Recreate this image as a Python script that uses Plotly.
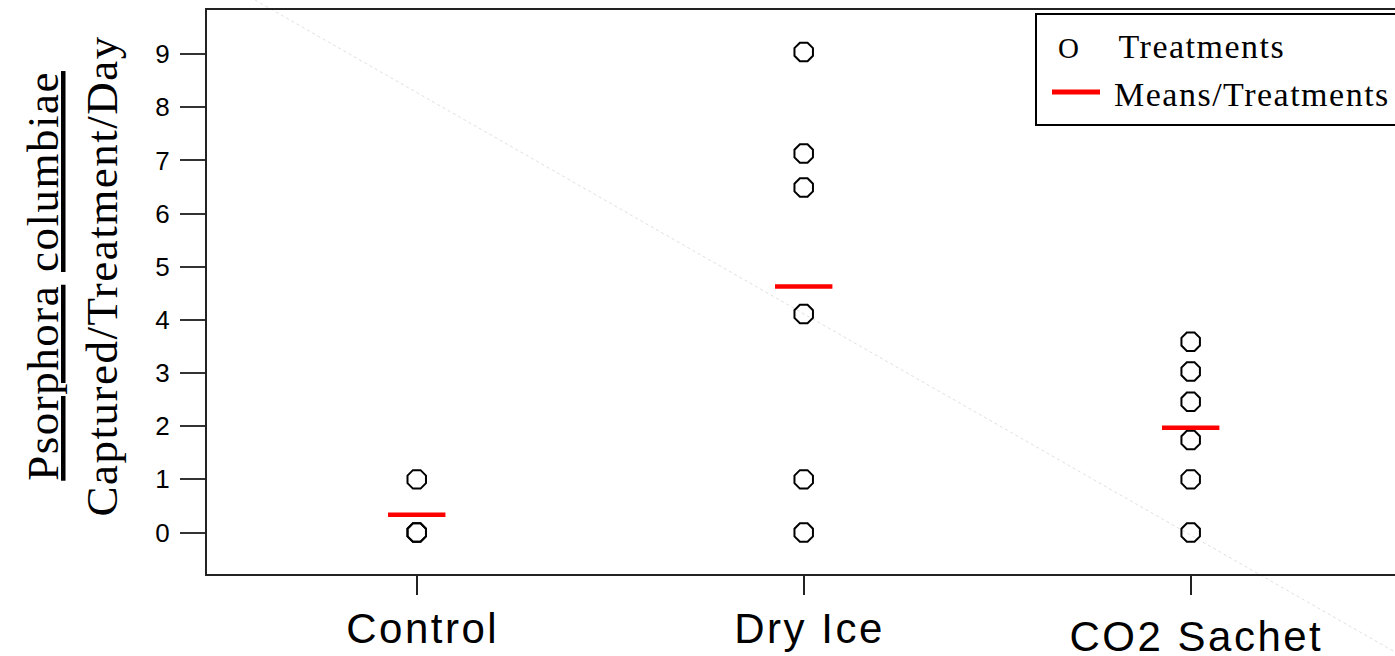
import numpy as np
import plotly.graph_objects as go

categories = ["Control", "Dry Ice", "CO2 Sachet"]
control = [1, 0, 0]
dry_ice = [9.04, 7.13, 6.49, 4.11, 1, 0]
co2_sachet = [3.59, 3.03, 2.46, 1.74, 1, 0]
y_ticks = [0, 1, 2, 3, 4, 5, 6, 7, 8, 9]

groups = [control, dry_ice, co2_sachet]
means = [float(np.mean(g)) for g in groups]

xs, ys = [], []
for cat, vals in zip(categories, groups):
    xs += [cat] * len(vals)
    ys += vals

W, H = 1395, 656
ML, MR, MT, MB = 207, 0, 10, 82

fig = go.Figure()
fig.add_trace(go.Scatter(
    x=xs, y=ys, mode="markers", name="Treatments",
    marker=dict(symbol="octagon-open", size=20, color="black",
                line=dict(color="black", width=2)),
    showlegend=False,
))
fig.add_trace(go.Scatter(
    x=categories, y=means, mode="markers", name="Means/Treatments",
    marker=dict(symbol="line-ew", size=41, color="red",
                line=dict(color="red", width=4.5)),
    showlegend=False,
))

serif = "Times New Roman, Liberation Serif, serif"
sans = "Arial, Liberation Sans, sans-serif"

fig.update_layout(
    width=W, height=H,
    margin=dict(l=ML, r=MR, t=MT, b=MB, autoexpand=False),
    paper_bgcolor="white", plot_bgcolor="white",
    showlegend=False,
    xaxis=dict(
        type="category", categoryorder="array", categoryarray=categories,
        range=[-0.542, 2.528], showgrid=False, zeroline=False,
        showline=True, linecolor="#222", linewidth=2, mirror=True,
        ticks="outside", ticklen=19, tickwidth=1.5, tickcolor="#222",
        showticklabels=False,
    ),
    yaxis=dict(
        range=[-0.78, 9.83], tickvals=y_ticks, showgrid=False, zeroline=False,
        showline=True, linecolor="#222", linewidth=2, mirror=False,
        ticks="outside", ticklen=25, tickwidth=2, tickcolor="#333",
        tickfont=dict(family=sans, size=26, color="black"),
        ticklabelstandoff=5,
    ),
)

pw = W - ML - MR
ph = H - MT - MB

def px_x(p):
    return (p - ML) / pw

def px_y(p):
    return (H - MB - p) / ph

# faint diagonal artifact line
fig.add_shape(type="line", xref="paper", yref="paper",
              x0=px_x(255), y0=px_y(0), x1=px_x(1395), y1=px_y(652),
              line=dict(color="#e0e0e0", width=1, dash="dot"), layer="below")

# x category labels
label_shift = [0, 0, -8]
for cat, ys_ in zip(categories, label_shift):
    fig.add_annotation(x=cat, xref="x", y=px_y(628), yref="paper",
                       text=cat, showarrow=False, yanchor="middle",
                       yshift=ys_, xshift=6,
                       font=dict(family=sans, size=42, color="black"))

# y axis title
fig.add_annotation(
    x=px_x(72), xref="paper", y=px_y(276), yref="paper",
    text="<u>Psorphora</u> <u>columbiae</u><br>Captured/Treatment/Day",
    textangle=-90, showarrow=False, xanchor="center", yanchor="middle",
    font=dict(family=serif, size=45, color="black"),
)

# legend box
fig.add_shape(type="rect", xref="paper", yref="paper",
              x0=px_x(1036), x1=px_x(1420), y0=px_y(125), y1=px_y(14),
              line=dict(color="black", width=2), fillcolor="white", layer="above")
fig.add_annotation(x=px_x(1068), xref="paper", y=px_y(48), yref="paper",
                   text="O", showarrow=False, xanchor="center", yanchor="middle",
                   font=dict(family=serif, size=29, color="black"))
fig.add_shape(type="line", xref="paper", yref="paper",
              x0=px_x(1052), x1=px_x(1100), y0=px_y(92), y1=px_y(92),
              line=dict(color="red", width=5), layer="above")
fig.add_annotation(x=px_x(1124), xref="paper", y=px_y(47), yref="paper",
                   text="Treatments", showarrow=False, xanchor="left", yanchor="middle",
                   font=dict(family=serif, size=34, color="black"))
fig.add_annotation(x=px_x(1124), xref="paper", y=px_y(95), yref="paper",
                   text="Means/Treatments", showarrow=False, xanchor="left", yanchor="middle",
                   font=dict(family=serif, size=34, color="black"))

post = """
document.body.style.margin = '0';
var gd = document.getElementById('{plot_id}');
var cats = %s;
gd.querySelectorAll('.annotation-text').forEach(function(t) {
    var s = t.textContent;
    if (cats.indexOf(s) >= 0) { t.style.letterSpacing = '2.5px'; }
    else if (s !== 'O') { t.style.letterSpacing = '1.5px'; }
});
""" % str(categories).replace("'", '"')

fig.write_html("out.html", post_script=post, config={"displayModeBar": False})
